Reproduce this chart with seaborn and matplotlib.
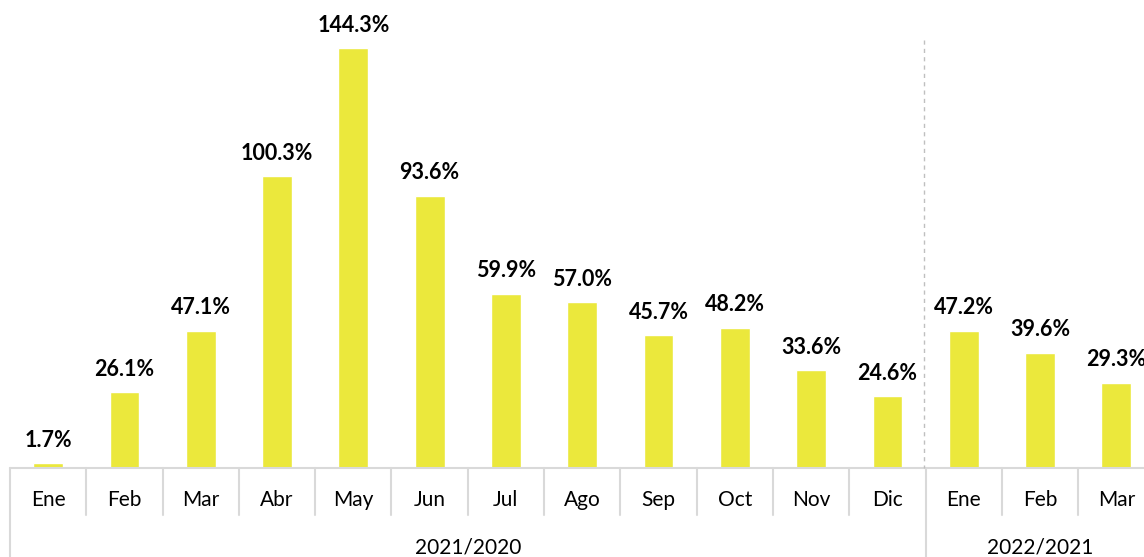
import matplotlib
matplotlib.use("Agg")
import matplotlib.pyplot as plt
import matplotlib.transforms as mtransforms
import seaborn as sns
import pandas as pd

months = ["Ene", "Feb", "Mar", "Abr", "May", "Jun", "Jul", "Ago", "Sep", "Oct", "Nov", "Dic",
          "Ene", "Feb", "Mar"]
groups = ["2021/2020"] * 12 + ["2022/2021"] * 3
values = [1.7, 26.1, 47.1, 100.3, 144.3, 93.6, 59.9, 57.0, 45.7, 48.2, 33.6, 24.6,
          47.2, 39.6, 29.3]
group_names = ["2021/2020", "2022/2021"]

keys = [f"{g}-{m}" for g, m in zip(groups, months)]
df = pd.DataFrame({"key": keys, "value": values})

sns.set_theme(style="white")
plt.rcParams["font.family"] = ["Lato", "DejaVu Sans"]

W, H = 1144, 557
fig = plt.figure(figsize=(W / 100, H / 100), dpi=100)
slot = 76.3
left_px = 10
base_px = 468
n = len(values)
ax = fig.add_axes([left_px / W, (H - base_px) / H, n * slot / W, base_px / H])

sns.barplot(data=df, x="key", y="value", order=keys, color="#EBE83C",
            width=0.39, ax=ax, saturation=1)
ax.set_xlim(-0.5, n - 0.5)
ax.set_ylim(0, base_px / 2.91)
ax.set_xlabel("")
ax.set_ylabel("")
ax.set_xticks([])
ax.set_yticks([])
for s in ax.spines.values():
    s.set_visible(False)

for i, v in enumerate(values):
    ax.annotate(f"{v:.1f}%", (i, v), xytext=(0, 9), textcoords="offset points",
                ha="center", va="bottom", fontsize=15.5, fontweight="bold", color="#000000")

# axis table
trans = mtransforms.blended_transform_factory(ax.transData, fig.transFigure)
def fy(px):
    return 1 - px / H

sep_color = "#D9D9D9"
ax.plot([-0.5, n - 0.5], [fy(base_px)] * 2, transform=trans, color=sep_color,
        lw=1.5, clip_on=False)
grp_bounds = [0]
for i in range(1, n):
    if groups[i] != groups[i - 1]:
        grp_bounds.append(i)
for i in range(n + 1):
    x = i - 0.5
    long = (i in grp_bounds)
    y_end = H if long else 515
    ax.plot([x, x], [fy(base_px), fy(y_end)], transform=trans, color=sep_color,
            lw=1.5, clip_on=False)

for i, m in enumerate(months):
    ax.text(i, fy(500), m, transform=trans, ha="center", va="center",
            fontsize=15, color="#000000")

for g in group_names:
    idx = [i for i, gg in enumerate(groups) if gg == g]
    c = (idx[0] - 0.5 + idx[-1] + 0.5) / 2
    ax.text(c, fy(547), g, transform=trans, ha="center", va="center",
            fontsize=15, color="#000000")

# dashed divider between groups
for b in grp_bounds[1:]:
    ax.plot([b - 0.52, b - 0.52], [fy(40), fy(base_px)], transform=trans,
            color="#BFBFBF", lw=1, ls=(0, (3, 3)), clip_on=False)

fig.savefig("out.png", dpi=100)
